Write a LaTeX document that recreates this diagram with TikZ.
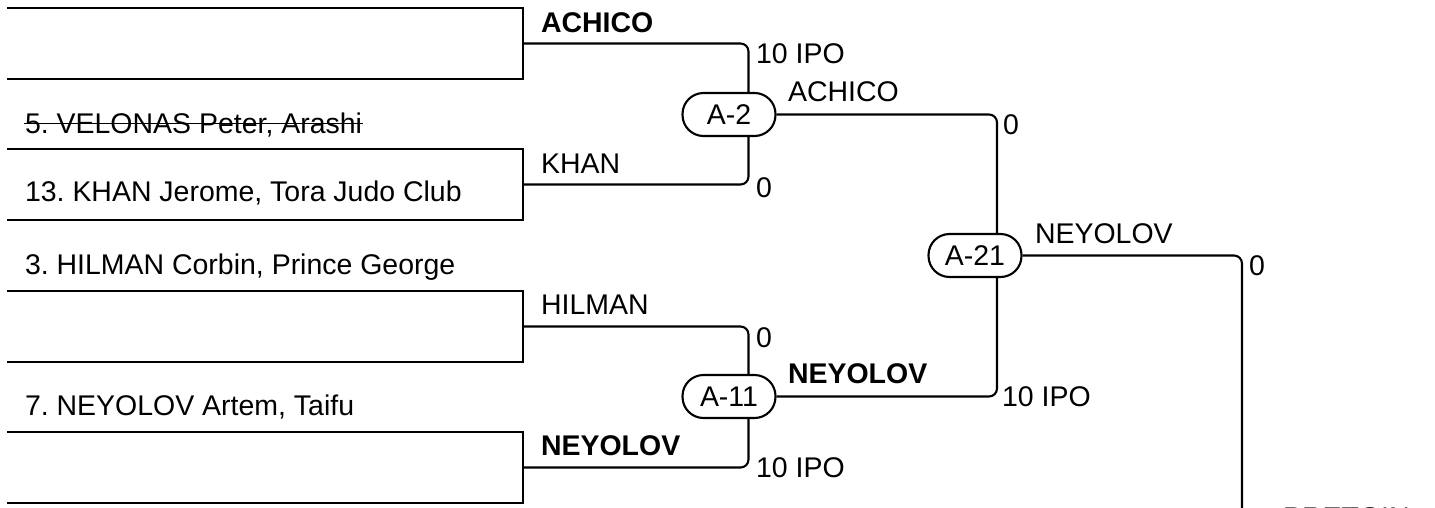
\documentclass[tikz,border=0pt]{standalone}
\usepackage{fontspec}
\setmainfont{Liberation Sans}
\usetikzlibrary{positioning}
\frenchspacing
\tikzset{
  bout/.style={draw, rounded corners=0.42cm, minimum width=1.86cm, minimum height=0.86cm, inner sep=0pt},
  lbl/.style={anchor=base west, inner sep=0pt},
  wire/.style={rounded corners=0.16cm},
}

\begin{document}
\begin{tikzpicture}[x=0.02cm, y=-0.02cm, font=\fontsize{16.2}{19}\selectfont, line width=1.2pt]
    \useasboundingbox (0,0) rectangle (1435,507);
    \clip (0,0) rectangle (1435,507);

    \foreach \t/\n in {8/1, 149/2, 291/3, 432/4} {
      \draw (7,\t) -| (523,\t+71) -- (7,\t+71);
      \coordinate (e\n) at (523,\t+35.5);
    }

    \node[lbl] (vel) at (24,133) {5. VELONAS Peter, Arashi};
    \draw[line width=1pt] ([yshift=0.19cm]vel.base west) -- ([yshift=0.19cm]vel.base east);
    \node[lbl] (khan) at (24,201) {13. KHAN Jerome, Tora Judo Club};
    \node[lbl] (hil) at (24,274) {3. HILMAN Corbin, Prince George};
    \node[lbl] (ney) at (24,415) {7. NEYOLOV Artem, Taifu};

    \node[bout] (a2) at (729,114.5) {A-2};
    \node[bout] (a11) at (729,396.5) {A-11};
    \node[bout] (a21) at (975,255.5) {A-21};
    \coordinate (next) at (1242,530);

    \draw[wire] (e1) -| ([xshift=0.39cm]a2.north);
    \draw[wire] (e2) -| ([xshift=0.39cm]a2.south);
    \draw[wire] (e3) -| ([xshift=0.39cm]a11.north);
    \draw[wire] (e4) -| ([xshift=0.39cm]a11.south);
    \draw[wire] (a2.east) -| ([xshift=0.44cm]a21.north);
    \draw[wire] (a11.east) -| ([xshift=0.44cm]a21.south);
    \draw[wire] (a21.east) -| (next);

    \node[lbl] (w1) at (540,32) {\textbf{ACHICO}};
    \node[lbl] (w2) at (540,173) {KHAN};
    \node[lbl] (w3) at (540,314) {HILMAN};
    \node[lbl] (w4) at (540,455) {\textbf{NEYOLOV}};
    \node[lbl] (w5) at (787,101) {ACHICO};
    \node[lbl] (w6) at (787,383) {\textbf{NEYOLOV}};
    \node[lbl] (w7) at (1034,243) {NEYOLOV};
    \node[lbl] (w8) at (1282,527) {PRETGIN};

    \node[lbl] (s1) at (755,63) {10 IPO};
    \node[lbl] (s2) at (755,197) {0};
    \node[lbl] (s3) at (755,347) {0};
    \node[lbl] (s4) at (755,477) {10 IPO};
    \node[lbl] (s5) at (1002,134) {0};
    \node[lbl] (s6) at (1001,406) {10 IPO};
    \node[lbl] (s7) at (1248,275) {0};
  \end{tikzpicture}
\end{document}
